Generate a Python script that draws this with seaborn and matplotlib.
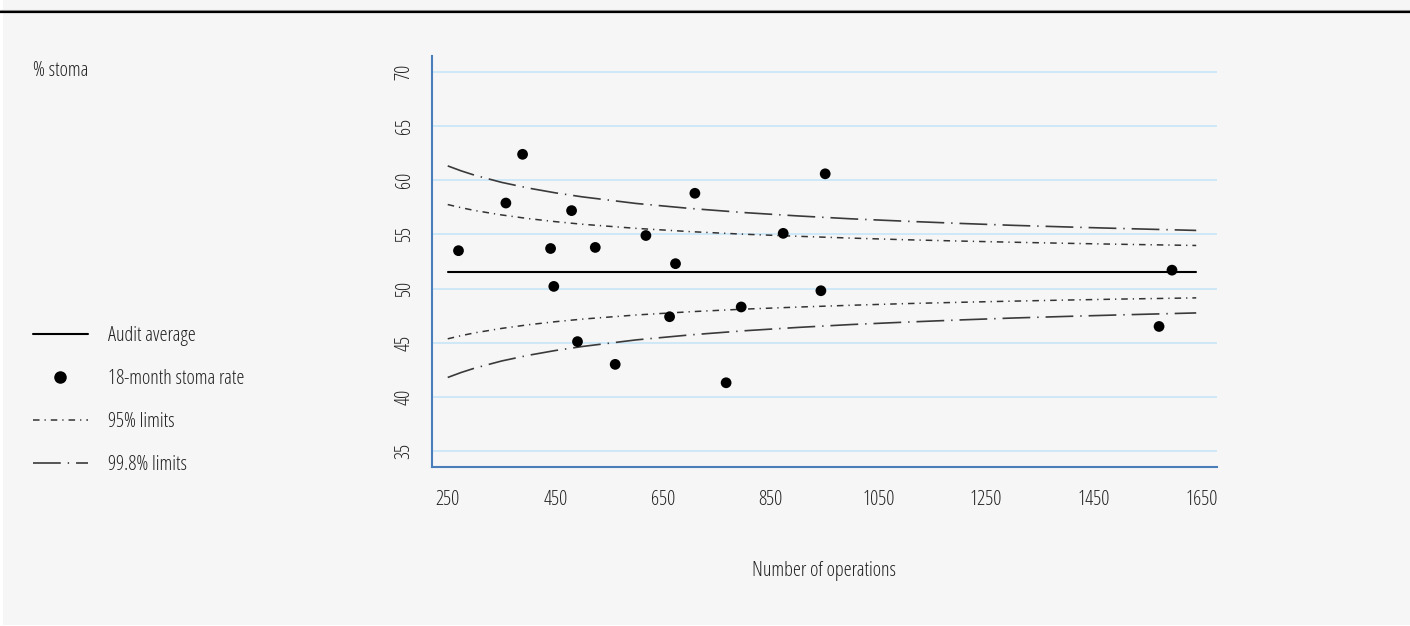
import matplotlib
matplotlib.use("Agg")
import matplotlib.pyplot as plt
from matplotlib import font_manager
from matplotlib.lines import Line2D
from matplotlib.patches import Rectangle
import seaborn as sns
import pandas as pd

# Units: number of operations and 18-month stoma rate (%)
operations = [270, 358, 389, 441, 447, 480, 491, 524, 561, 618,
              662, 673, 709, 767, 795, 873, 943, 951, 1571, 1595]
stoma_rate = [53.5, 57.9, 62.4, 53.7, 50.2, 57.2, 45.1, 53.8, 43.0, 54.9,
              47.4, 52.3, 58.8, 41.3, 48.3, 55.1, 49.8, 60.6, 46.5, 51.7]

audit_average = 51.56
average_span = [250, 1640]

limit_n = [250, 275, 300, 350, 400, 450, 500, 600, 700, 800, 900,
           1000, 1100, 1200, 1300, 1400, 1500, 1640]
upper_95 = [57.76, 57.47, 57.21, 56.80, 56.46, 56.18, 55.94, 55.56, 55.26, 55.02, 54.83,
            54.66, 54.51, 54.39, 54.28, 54.18, 54.09, 53.98]
lower_95 = [45.36, 45.65, 45.91, 46.32, 46.66, 46.94, 47.18, 47.56, 47.86, 48.10, 48.29,
            48.46, 48.61, 48.73, 48.84, 48.94, 49.03, 49.14]
upper_998 = [61.33, 60.87, 60.47, 59.81, 59.28, 58.84, 58.47, 57.86, 57.40, 57.02, 56.71,
             56.44, 56.22, 56.02, 55.84, 55.69, 55.55, 55.37]
lower_998 = [41.79, 42.25, 42.65, 43.31, 43.84, 44.28, 44.65, 45.26, 45.72, 46.10, 46.41,
             46.68, 46.90, 47.10, 47.28, 47.43, 47.57, 47.75]

x_ticks = [250, 450, 650, 850, 1050, 1250, 1450, 1650]
y_ticks = [35, 40, 45, 50, 55, 60, 65, 70]

legend_labels = ["Audit average", "18-month stoma rate", "95% limits", "99.8% limits"]

sns.set_theme(style="whitegrid")

CONDENSED = ("condensed", "semi-condensed", "extra-condensed", "ultra-condensed")


def _weight(entry):
    w = entry.weight
    if isinstance(w, str):
        w = font_manager.weight_dict.get(w, 400)
    return int(w)


def pick_narrow_font():
    """Find an upright, regular-weight narrow sans face; fall back to Liberation Sans."""
    entries = font_manager.fontManager.ttflist
    preferred = ["Liberation Sans Narrow", "Arial Narrow", "Noto Sans", "Noto Sans Condensed",
                 "Open Sans", "Open Sans Condensed", "Roboto Condensed", "Roboto",
                 "DejaVu Sans", "DejaVu Sans Condensed"]
    found = []
    for f in entries:
        if f.style != "normal":
            continue
        w = _weight(f)
        narrow = ("Narrow" in f.name or "Condensed" in f.name or str(f.stretch) in CONDENSED)
        if narrow and 300 <= w <= 400:
            found.append((f.name, str(f.stretch), w))
    found.sort(key=lambda t: (preferred.index(t[0]) if t[0] in preferred else 99,
                              abs(t[2] - 400)))
    if found:
        return found[0]
    return ("Liberation Sans", "normal", 400)


family, stretch, weight = pick_narrow_font()
plt.rcParams["font.family"] = [family, "DejaVu Sans"]
plt.rcParams["font.stretch"] = stretch
plt.rcParams["font.weight"] = weight
plt.rcParams["lines.scale_dashes"] = False

BG = "#f6f6f6"
AXIS_BLUE = "#4a7ebb"
GRID_BLUE = "#c8e6f8"
TEXT = "#222222"
FS = 14.6

style_95 = (0, (4.7, 3.6, 0.9, 3.6))
style_998 = (0, (20, 5, 1, 5))

fig = plt.figure(figsize=(14.1, 6.26), dpi=100, facecolor="white")
fig.patches.append(Rectangle((3 / 1410, 1 / 626), 1, 1, transform=fig.transFigure,
                             facecolor=BG, edgecolor="none", zorder=-10))
fig.add_artist(Line2D([0, 1], [1 - 10 / 626, 1 - 10 / 626], transform=fig.transFigure,
                      color="#9a9a9a", lw=0.8))
fig.add_artist(Line2D([0, 1], [1 - 11.8 / 626, 1 - 11.8 / 626], transform=fig.transFigure,
                      color="black", lw=1.6))

ax = fig.add_axes([432 / 1410, 1 - 467 / 626, 785 / 1410, 411 / 626])
ax.set_facecolor(BG)

points = pd.DataFrame({"operations": operations, "stoma_rate": stoma_rate})
limits = pd.DataFrame({"n": limit_n, "u95": upper_95, "l95": lower_95,
                       "u998": upper_998, "l998": lower_998})
avg = pd.DataFrame({"n": average_span, "avg": [audit_average] * 2})

sns.lineplot(data=avg, x="n", y="avg", ax=ax, color="black", lw=1.5, zorder=3)
for col in ["u95", "l95"]:
    sns.lineplot(data=limits, x="n", y=col, ax=ax, color="#333333", lw=1.1,
                 linestyle=style_95, zorder=3)
for col in ["u998", "l998"]:
    sns.lineplot(data=limits, x="n", y=col, ax=ax, color="#3a3a3a", lw=1.2,
                 linestyle=style_998, zorder=3)
sns.scatterplot(data=points, x="operations", y="stoma_rate", ax=ax, color="black",
                s=60, edgecolor="none", zorder=4)

ax.set_xlim(220.8, 1678.6)
ax.set_ylim(33.52, 71.48)
ax.set_xticks(x_ticks)
ax.set_yticks(y_ticks)
ax.set_xticklabels([str(v) for v in x_ticks])
ax.set_yticklabels([str(v) for v in y_ticks])
plt.setp(ax.get_yticklabels(), rotation=90, va="center")

ax.grid(axis="x", visible=False)
ax.grid(axis="y", color=GRID_BLUE, lw=1.2)
for side in ["top", "right"]:
    ax.spines[side].set_visible(False)
for side in ["left", "bottom"]:
    ax.spines[side].set_visible(True)
    ax.spines[side].set_color(AXIS_BLUE)
    ax.spines[side].set_linewidth(1.5)
ax.tick_params(axis="both", which="major", direction="out", length=6.5, width=1.3,
               color=AXIS_BLUE, labelcolor=TEXT, labelsize=FS)
ax.tick_params(axis="y", pad=6)
ax.tick_params(axis="x", pad=10)

ax.set_xlabel("Number of operations", fontsize=FS, color=TEXT, labelpad=37)
ax.set_ylabel("")

fig.text(33 / 1410, 1 - 71 / 626, "% stoma", fontsize=FS, color=TEXT, va="center", ha="left")

handles = [
    Line2D([], [], color="black", lw=1.5),
    Line2D([], [], color="black", marker="o", markersize=8, linestyle="none"),
    Line2D([], [], color="#333333", lw=1.1, linestyle=style_95),
    Line2D([], [], color="#3a3a3a", lw=1.2, linestyle=style_998),
]
fig.legend(handles, legend_labels, loc="upper left",
           bbox_to_anchor=(33 / 1410, 1 - 326 / 626), frameon=False,
           fontsize=FS, labelcolor=TEXT, handlelength=2.7, handletextpad=1.0,
           labelspacing=1.14, borderpad=0, borderaxespad=0)

fig.savefig("out.png", dpi=100, facecolor=fig.get_facecolor())
